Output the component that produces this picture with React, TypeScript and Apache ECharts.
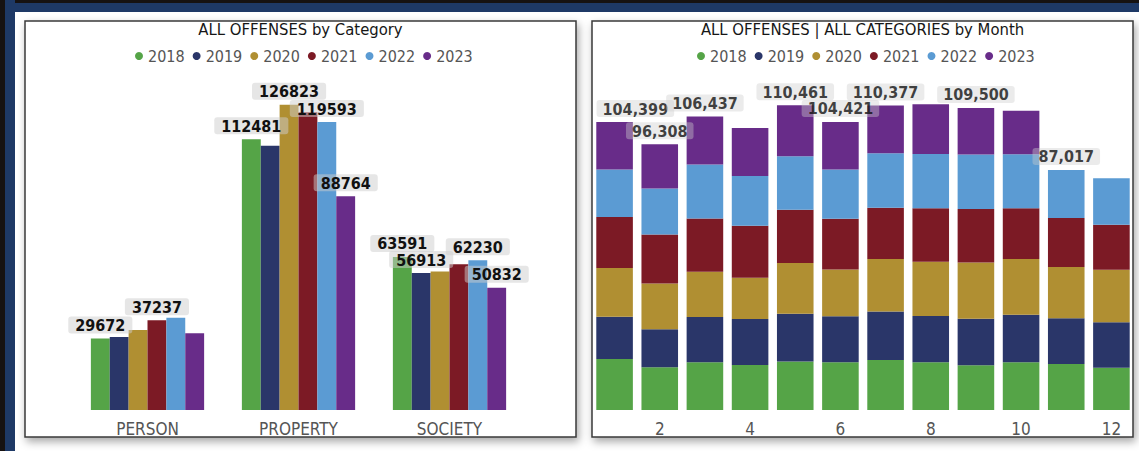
import React, { useEffect, useRef } from "react";
import * as echarts from "echarts";

const FONT = "'DejaVu Sans Condensed', 'DejaVu Sans', sans-serif";

const years = ["2018", "2019", "2020", "2021", "2022", "2023"];
const yearColors = ["#55A447", "#2A3669", "#B08F32", "#7C1A25", "#5B9BD3", "#682C89"];

// Left chart: offenses by category
const categories = ["PERSON", "PROPERTY", "SOCIETY"];
const cat2018 = [29672, 112481, 63591];
const cat2019 = [30320, 109800, 56913];
const cat2020 = [33230, 126823, 57500];
const cat2021 = [37237, 123660, 60520];
const cat2022 = [38340, 119593, 62230];
const cat2023 = [31860, 88764, 50832];
const categorySeries = [cat2018, cat2019, cat2020, cat2021, cat2022, cat2023];
// which year's bar carries a visible value label, per category
const categoryLabeledYears = [
  ["2018", "2021"],
  ["2018", "2020", "2022", "2023"],
  ["2018", "2019", "2022", "2023"],
];

// Right chart: offenses by month
const months = ["1", "2", "3", "4", "5", "6", "7", "8", "9", "10", "11", "12"];
const m2018 = [18500, 15500, 17350, 16310, 17550, 17300, 18150, 17290, 16250, 17290, 16700, 15340];
const m2019 = [15300, 13800, 16350, 16680, 17300, 16700, 17550, 16790, 16800, 17260, 16600, 16460];
const m2020 = [17700, 16600, 16450, 14970, 18400, 16900, 19050, 19690, 20450, 20190, 18550, 19070];
const m2021 = [18450, 17700, 19250, 18850, 19350, 18450, 18550, 19360, 19400, 18380, 17800, 16310];
const m2022 = [17200, 16700, 19600, 18010, 19350, 17800, 19750, 19690, 19700, 19580, 17367, 16820];
const m2023 = [17249, 16008, 17437, 17400, 18511, 17271, 17327, 18010, 16900, 15800, null, null];
const monthSeries = [m2018, m2019, m2020, m2021, m2022, m2023];
const labeledMonths = ["1", "2", "3", "5", "6", "7", "9", "11"];

const labelBox = {
  fontFamily: FONT,
  fontSize: 16,
  fontWeight: "bold" as const,
  color: "#111",
  backgroundColor: "rgba(205,205,205,0.5)",
  borderRadius: 3,
  padding: [1, 7, 0, 7],
  lineHeight: 16,
};

export default function App() {
  const ref = useRef<HTMLDivElement>(null);

  useEffect(() => {
    document.body.style.margin = "0";
    const chart = echarts.init(ref.current!, null, { renderer: "svg" });

    const leftSeries = years.map((y, si) => ({
      name: y,
      type: "bar",
      xAxisIndex: 0,
      yAxisIndex: 0,
      barGap: "0%",
      barCategoryGap: "25%",
      itemStyle: { color: yearColors[si] },
      label: { show: false, position: "top", distance: 5, ...labelBox },
      data: categorySeries[si].map((v, ci) =>
        categoryLabeledYears[ci].includes(y) ? { value: v, label: { show: true } } : v
      ),
      z: 2,
    }));

    const rightSeries = years.map((y, si) => ({
      name: y,
      type: "bar",
      stack: "month",
      xAxisIndex: 1,
      yAxisIndex: 1,
      barCategoryGap: "19%",
      itemStyle: { color: yearColors[si] },
      data: monthSeries[si].map((v) => (v == null ? "-" : v)),
      z: 2,
    }));

    const totals = months.map((_, i) =>
      monthSeries.reduce((s, arr) => s + (arr[i] == null ? 0 : (arr[i] as number)), 0)
    );

    const totalSeries = {
      name: "Total",
      type: "scatter",
      xAxisIndex: 1,
      yAxisIndex: 1,
      symbolSize: 0,
      silent: true,
      z: 5,
      label: {
        show: true,
        position: "top",
        distance: 5,
        ...labelBox,
        padding: [1, 6, 0, 6],
        formatter: (p: any) => Number(p.value).toLocaleString("en-US"),
      },
      data: months.map((m, i) => {
        if (!labeledMonths.includes(m)) return "-";
        if (i === 0) return { value: totals[i], label: { align: "left", offset: [-18, 0] } };
        return totals[i];
      }),
    };

    const panelStyle = {
      fill: "#ffffff",
      stroke: "#3a3a3a",
      lineWidth: 1.5,
      shadowBlur: 8,
      shadowOffsetX: 2,
      shadowOffsetY: 4,
      shadowColor: "rgba(0,0,0,0.35)",
    };

    const titleStyle = { fontFamily: FONT, fontSize: 16.5, fontWeight: "normal", color: "#161616" };
    const legendBase = {
      data: years,
      top: 48,
      padding: 0,
      icon: "circle",
      itemWidth: 8,
      itemHeight: 8,
      itemGap: 8,
      textStyle: { fontFamily: FONT, fontSize: 16, color: "#555555" },
    };

    const option: any = {
      animation: false,
      backgroundColor: "#ffffff",
      graphic: {
        elements: [
          { type: "rect", z: -10, shape: { x: 0, y: 0, width: 1139, height: 12 }, style: { fill: "#1E3966" } },
          { type: "rect", z: -10, shape: { x: 0, y: 0, width: 1139, height: 3 }, style: { fill: "#161212" } },
          { type: "rect", z: -10, shape: { x: 5, y: 0, width: 10, height: 451 }, style: { fill: "#1E3966" } },
          { type: "rect", z: -10, shape: { x: 0, y: 0, width: 5, height: 451 }, style: { fill: "#161212" } },
          { type: "rect", z: -5, shape: { x: 25, y: 21, width: 551, height: 416 }, style: panelStyle },
          { type: "rect", z: -5, shape: { x: 592, y: 21, width: 541, height: 416 }, style: panelStyle },
        ],
      },
      title: [
        {
          text: "ALL OFFENSES by Category",
          left: 300.5,
          top: 21,
          textAlign: "center",
          padding: 0,
          textStyle: titleStyle,
        },
        {
          text: "ALL OFFENSES | ALL CATEGORIES by Month",
          left: 862.5,
          top: 21,
          textAlign: "center",
          padding: 0,
          textStyle: titleStyle,
        },
      ],
      legend: [
        { ...legendBase, left: 135 },
        { ...legendBase, left: 697 },
      ],
      grid: [
        { left: 72, width: 453, top: 73, height: 337, containLabel: false },
        { left: 592, width: 542, top: 79, height: 331, containLabel: false },
      ],
      xAxis: [
        {
          type: "category",
          gridIndex: 0,
          data: categories,
          axisLine: { show: false },
          axisTick: { show: false },
          axisLabel: { fontFamily: FONT, fontSize: 17, color: "#555555", margin: 10 },
        },
        {
          type: "category",
          gridIndex: 1,
          data: months,
          axisLine: { show: false },
          axisTick: { show: false },
          axisLabel: {
            fontFamily: FONT,
            fontSize: 17,
            color: "#555555",
            margin: 10,
            interval: (index: number) => index % 2 === 1,
          },
        },
      ],
      yAxis: [
        { type: "value", gridIndex: 0, min: 0, max: 140000, show: false, splitLine: { show: false } },
        { type: "value", gridIndex: 1, min: 0, max: 120000, show: false, splitLine: { show: false } },
      ],
      series: [...leftSeries, ...rightSeries, totalSeries],
    };

    chart.setOption(option);
    return () => chart.dispose();
  }, []);

  return <div ref={ref} style={{ width: 1139, height: 451 }} />;
}
